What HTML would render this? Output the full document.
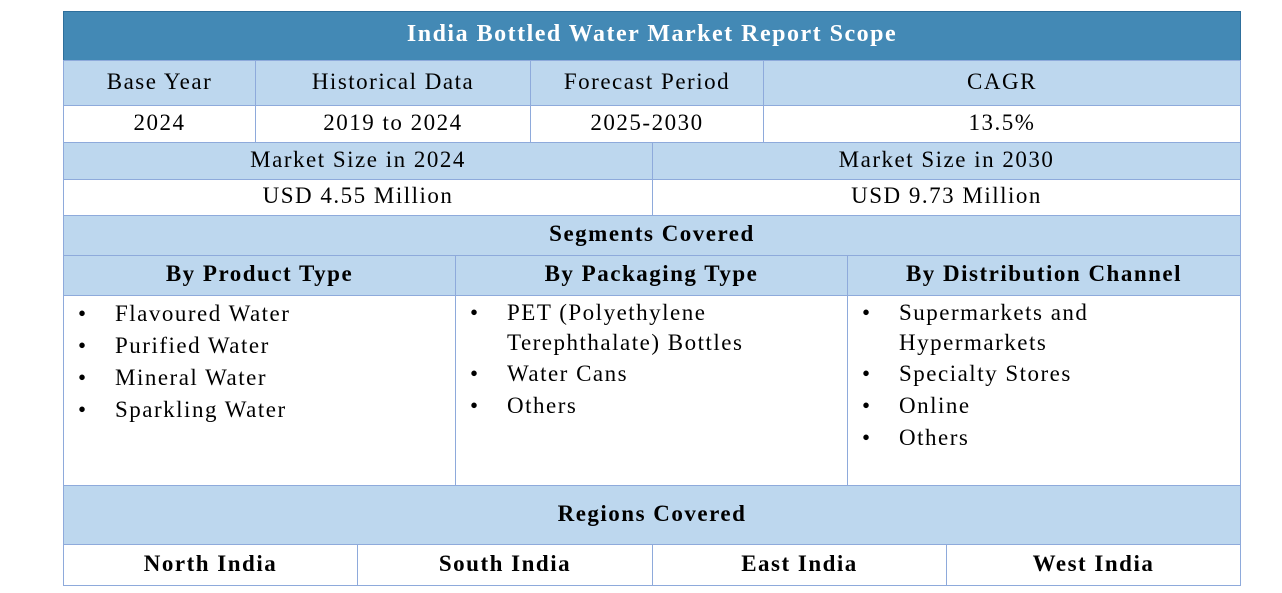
<!DOCTYPE html>
<html><head><meta charset="utf-8"><style>
body{margin:0;width:1282px;height:593px;background:#fff;position:relative;font-family:"Liberation Serif","DejaVu Serif",serif;overflow:hidden;letter-spacing:1.5px}
.c{position:absolute;box-sizing:border-box;border:1px solid #8eaadb;display:flex;align-items:center;justify-content:center;font-size:23px;color:#000;padding-bottom:3px}
.b{background:#bdd7ee}
.t{background:#4389b5;color:#fff;font-weight:bold;font-size:24px;border-color:#2e6f9c}
.h{font-weight:bold}
.l{align-items:flex-start;justify-content:flex-start;padding:2px 0 0 10px}
ul{margin:0;padding:0;list-style:none}
li{position:relative;padding-left:41px;line-height:32px;font-size:23px}
li.w{line-height:30px}
li:before{content:"\2022";position:absolute;left:4px;top:0}
</style></head><body>
<div class="c t" style="left:63px;top:11px;width:1178px;height:50px">India Bottled Water Market Report Scope</div>
<div class="c b" style="left:63px;top:60px;width:193px;height:46px">Base Year</div>
<div class="c b" style="left:255px;top:60px;width:276px;height:46px">Historical Data</div>
<div class="c b" style="left:530px;top:60px;width:234px;height:46px">Forecast Period</div>
<div class="c b" style="left:763px;top:60px;width:478px;height:46px">CAGR</div>
<div class="c" style="left:63px;top:105px;width:193px;height:38px">2024</div>
<div class="c" style="left:255px;top:105px;width:276px;height:38px">2019 to 2024</div>
<div class="c" style="left:530px;top:105px;width:234px;height:38px">2025-2030</div>
<div class="c" style="left:763px;top:105px;width:478px;height:38px">13.5%</div>
<div class="c b" style="left:63px;top:142px;width:590px;height:38px">Market Size in 2024</div>
<div class="c b" style="left:652px;top:142px;width:589px;height:38px">Market Size in 2030</div>
<div class="c" style="left:63px;top:179px;width:590px;height:37px">USD 4.55 Million</div>
<div class="c" style="left:652px;top:179px;width:589px;height:37px">USD 9.73 Million</div>
<div class="c b h" style="left:63px;top:215px;width:1178px;height:41px">Segments Covered</div>
<div class="c b h" style="left:63px;top:255px;width:393px;height:41px">By Product Type</div>
<div class="c b h" style="left:455px;top:255px;width:393px;height:41px">By Packaging Type</div>
<div class="c b h" style="left:847px;top:255px;width:394px;height:41px">By Distribution Channel</div>
<div class="c l" style="left:63px;top:295px;width:393px;height:191px"><ul><li>Flavoured Water</li><li>Purified Water</li><li>Mineral Water</li><li>Sparkling Water</li></ul></div>
<div class="c l" style="left:455px;top:295px;width:393px;height:191px"><ul><li class="w">PET (Polyethylene<br>Terephthalate) Bottles</li><li>Water Cans</li><li>Others</li></ul></div>
<div class="c l" style="left:847px;top:295px;width:394px;height:191px"><ul><li class="w">Supermarkets and<br>Hypermarkets</li><li>Specialty Stores</li><li>Online</li><li>Others</li></ul></div>
<div class="c b h" style="left:63px;top:485px;width:1178px;height:60px">Regions Covered</div>
<div class="c h" style="left:63px;top:544px;width:295px;height:42px">North India</div>
<div class="c h" style="left:357px;top:544px;width:296px;height:42px">South India</div>
<div class="c h" style="left:652px;top:544px;width:295px;height:42px">East India</div>
<div class="c h" style="left:946px;top:544px;width:295px;height:42px">West India</div>
</body></html>
